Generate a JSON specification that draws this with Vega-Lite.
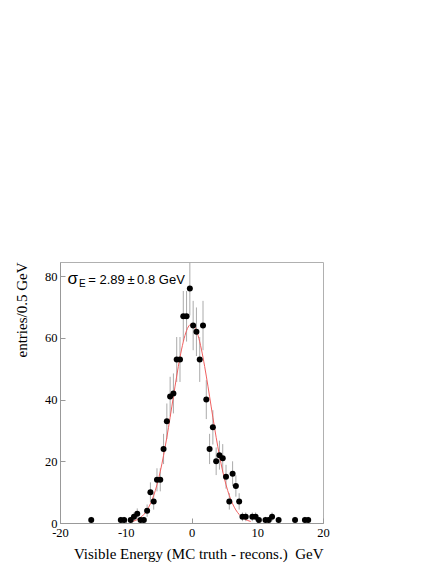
{
  "$schema": "https://vega.github.io/schema/vega-lite/v6.json",
  "width": 263,
  "height": 261,
  "autosize": {"type": "none"},
  "padding": {"left": 60, "top": 262, "right": 113, "bottom": 41},
  "background": "white",
  "config": {
    "view": {"stroke": "#b0b0b0", "strokeWidth": 1},
    "axis": {
      "grid": false,
      "domainColor": "#999999",
      "tickColor": "#999999",
      "tickSize": -5,
      "labelFont": "Liberation Serif",
      "labelFontSize": 12.5,
      "labelColor": "black",
      "labelPadding": 8,
      "labelFlush": false,
      "titleFont": "Liberation Serif",
      "titleFontSize": 15,
      "titleFontWeight": "normal",
      "titleColor": "black"
    }
  },
  "datasets": {
    "hist": [
      {"x": -15.25, "y": 1, "lo": 0, "hi": 2},
      {"x": -10.75, "y": 1, "lo": 0, "hi": 2},
      {"x": -10.25, "y": 1, "lo": 0, "hi": 2},
      {"x": -9.25, "y": 1, "lo": 0, "hi": 2},
      {"x": -8.75, "y": 2, "lo": 0.59, "hi": 3.41},
      {"x": -8.25, "y": 3, "lo": 1.27, "hi": 4.73},
      {"x": -7.75, "y": 1, "lo": 0, "hi": 2},
      {"x": -7.25, "y": 1, "lo": 0, "hi": 2},
      {"x": -6.75, "y": 4, "lo": 2, "hi": 6},
      {"x": -6.25, "y": 10, "lo": 6.84, "hi": 13.16},
      {"x": -5.75, "y": 7, "lo": 4.35, "hi": 9.65},
      {"x": -5.25, "y": 14, "lo": 10.26, "hi": 17.74},
      {"x": -4.75, "y": 14, "lo": 10.26, "hi": 17.74},
      {"x": -4.25, "y": 24, "lo": 19.1, "hi": 28.9},
      {"x": -3.75, "y": 33, "lo": 27.26, "hi": 38.74},
      {"x": -3.25, "y": 41, "lo": 34.6, "hi": 47.4},
      {"x": -2.75, "y": 42, "lo": 35.52, "hi": 48.48},
      {"x": -2.25, "y": 53, "lo": 45.72, "hi": 60.28},
      {"x": -1.75, "y": 53, "lo": 45.72, "hi": 60.28},
      {"x": -1.25, "y": 67, "lo": 58.81, "hi": 75.19},
      {"x": -0.75, "y": 67, "lo": 58.81, "hi": 75.19},
      {"x": -0.25, "y": 76, "lo": 67.28, "hi": 84.72},
      {"x": 0.25, "y": 64, "lo": 56, "hi": 72},
      {"x": 0.75, "y": 62, "lo": 54.13, "hi": 69.87},
      {"x": 1.25, "y": 53, "lo": 45.72, "hi": 60.28},
      {"x": 1.75, "y": 64, "lo": 56, "hi": 72},
      {"x": 2.25, "y": 40, "lo": 33.68, "hi": 46.32},
      {"x": 2.75, "y": 24, "lo": 19.1, "hi": 28.9},
      {"x": 3.25, "y": 31, "lo": 25.43, "hi": 36.57},
      {"x": 3.75, "y": 20, "lo": 15.53, "hi": 24.47},
      {"x": 4.25, "y": 22, "lo": 17.31, "hi": 26.69},
      {"x": 4.75, "y": 21, "lo": 16.42, "hi": 25.58},
      {"x": 5.25, "y": 15, "lo": 11.13, "hi": 18.87},
      {"x": 5.75, "y": 7, "lo": 4.35, "hi": 9.65},
      {"x": 6.25, "y": 16, "lo": 12, "hi": 20},
      {"x": 6.75, "y": 12, "lo": 8.54, "hi": 15.46},
      {"x": 7.25, "y": 7, "lo": 4.35, "hi": 9.65},
      {"x": 7.75, "y": 2, "lo": 0.59, "hi": 3.41},
      {"x": 8.25, "y": 2, "lo": 0.59, "hi": 3.41},
      {"x": 9.25, "y": 2, "lo": 0.59, "hi": 3.41},
      {"x": 9.75, "y": 2, "lo": 0.59, "hi": 3.41},
      {"x": 10.25, "y": 1, "lo": 0, "hi": 2},
      {"x": 11.25, "y": 1, "lo": 0, "hi": 2},
      {"x": 11.75, "y": 1, "lo": 0, "hi": 2},
      {"x": 12.25, "y": 2, "lo": 0.59, "hi": 3.41},
      {"x": 13.25, "y": 1, "lo": 0, "hi": 2},
      {"x": 15.75, "y": 1, "lo": 0, "hi": 2},
      {"x": 17.25, "y": 1, "lo": 0, "hi": 2},
      {"x": 17.75, "y": 1, "lo": 0, "hi": 2}
    ],
    "fit": [
      {"x": -9, "y": 0.5}, {"x": -8.5, "y": 0.85}, {"x": -8, "y": 1.4}, {"x": -7.5, "y": 2.22},
      {"x": -7, "y": 3.43}, {"x": -6.5, "y": 5.14}, {"x": -6, "y": 7.47}, {"x": -5.5, "y": 10.54},
      {"x": -5, "y": 14.43}, {"x": -4.5, "y": 19.18}, {"x": -4, "y": 24.74}, {"x": -3.5, "y": 30.97},
      {"x": -3, "y": 37.63}, {"x": -2.5, "y": 44.36}, {"x": -2, "y": 50.76}, {"x": -1.5, "y": 56.37},
      {"x": -1, "y": 60.75}, {"x": -0.5, "y": 63.54}, {"x": 0, "y": 64.5}, {"x": 0.5, "y": 63.54},
      {"x": 1, "y": 60.75}, {"x": 1.5, "y": 56.37}, {"x": 2, "y": 50.76}, {"x": 2.5, "y": 44.36},
      {"x": 3, "y": 37.63}, {"x": 3.5, "y": 30.97}, {"x": 4, "y": 24.74}, {"x": 4.5, "y": 19.18},
      {"x": 5, "y": 14.43}, {"x": 5.5, "y": 10.54}, {"x": 6, "y": 7.47}, {"x": 6.5, "y": 5.14},
      {"x": 7, "y": 3.43}, {"x": 7.5, "y": 2.22}, {"x": 8, "y": 1.4}, {"x": 8.5, "y": 0.85},
      {"x": 9, "y": 0.5}
    ],
    "one": [{}]
  },
  "layer": [
    {
      "data": {"name": "hist"},
      "mark": {"type": "rule", "color": "#aaaaaa", "strokeWidth": 1, "clip": true},
      "encoding": {
        "x": {"field": "x", "type": "quantitative", "scale": {"domain": [-20, 20], "nice": false},
              "axis": {"values": [-20, -10, 0, 10, 20], "labelExpr": "toString(datum.value)", "labelFont": "Liberation Serif", "labelFlush": false, "title": "Visible Energy (MC truth - recons.)\u00a0\u00a0GeV", "titleAnchor": "end", "titlePadding": 8}},
        "y": {"field": "lo", "type": "quantitative", "scale": {"domain": [0, 84.6], "nice": false},
              "axis": {"values": [0, 20, 40, 60, 80], "labelFont": "Liberation Serif", "labelFlush": false, "title": "entries/0.5 GeV", "titleAnchor": "end", "titlePadding": 15}},
        "y2": {"field": "hi"}
      }
    },
    {
      "data": {"name": "fit"},
      "mark": {"type": "line", "color": "#f06060", "strokeWidth": 1, "interpolate": "monotone", "clip": true},
      "encoding": {
        "x": {"field": "x", "type": "quantitative"},
        "y": {"field": "y", "type": "quantitative"}
      }
    },
    {
      "data": {"name": "hist"},
      "mark": {"type": "point", "filled": true, "shape": "circle", "color": "black", "size": 36, "opacity": 1},
      "encoding": {
        "x": {"field": "x", "type": "quantitative"},
        "y": {"field": "y", "type": "quantitative"}
      }
    },
    {
      "data": {"name": "one"},
      "mark": {"type": "text", "text": "\u03c3", "font": "Liberation Sans", "fontSize": 17, "align": "left", "baseline": "alphabetic", "color": "black"},
      "encoding": {"x": {"datum": -18.85}, "y": {"datum": 77.6}}
    },
    {
      "data": {"name": "one"},
      "mark": {"type": "text", "text": "E", "font": "Liberation Sans", "fontSize": 10, "align": "left", "baseline": "alphabetic", "color": "black"},
      "encoding": {"x": {"datum": -17.1}, "y": {"datum": 76.5}}
    },
    {
      "data": {"name": "one"},
      "mark": {"type": "text", "text": "= 2.89\u2009\u00b1\u20090.8 GeV", "font": "Liberation Sans", "fontSize": 13, "align": "left", "baseline": "alphabetic", "color": "black"},
      "encoding": {"x": {"datum": -15.7}, "y": {"datum": 77.6}}
    }
  ]
}
